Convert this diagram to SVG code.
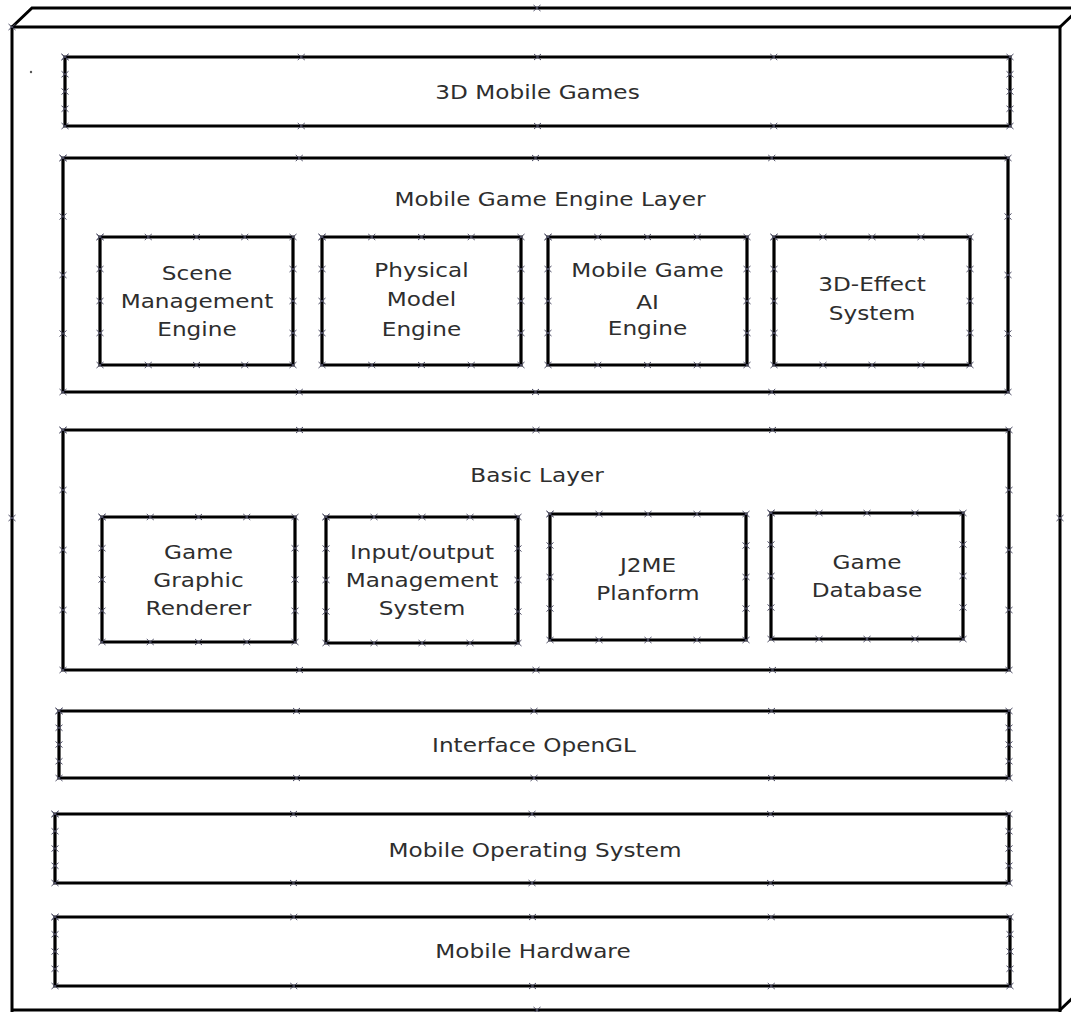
<svg xmlns="http://www.w3.org/2000/svg" width="1071" height="1012" viewBox="0 0 1071 1012">
  <defs>
    <marker id="tick" viewBox="-5 -5 10 10" markerWidth="10" markerHeight="10" markerUnits="userSpaceOnUse" refX="0" refY="0" orient="0" overflow="visible">
      <path d="M-3.5,-3 L3.5,3 M-3.5,3 L3.5,-3" stroke="#4b4b63" stroke-width="1" fill="none"/>
    </marker>
  </defs>
  <style>
    .box { fill: none; stroke: #000; stroke-width: 3.2; stroke-linejoin: miter; marker-start: url(#tick); marker-mid: url(#tick); marker-end: url(#tick); }
    .frame { fill: none; stroke: #000; stroke-width: 3; }
    .lbl { font-family: "DejaVu Sans", "Liberation Sans", sans-serif; font-size: 19px; fill: #2e2e2e; text-anchor: middle; }
  </style>
  <rect width="1071" height="1012" fill="#fff"/>

  <!-- outer 3D frame -->
  <g id="frame">
    <path class="frame" d="M12 1012V27H1060V1012"/>
    <path class="frame" d="M12 1010H1060"/>
    <path class="frame" d="M12 27L32 8H1090"/>
    <path class="frame" d="M1060 27L1080 8"/>
    <path class="frame" d="M1060 1010L1080 991"/>
    <path d="M12 27M537 8M12 518M1060 518M537 1010" fill="none" stroke="none" style="marker-start:url(#tick);marker-mid:url(#tick);marker-end:url(#tick)"/>
    <circle cx="31" cy="72" r="1.2" fill="#555"/>
  </g>

  <g id="mobile-games">
    <path class="box" d="M65 57H301.25H537.5H773.75H1010V74.25V91.5V108.75V126H773.75H537.5H301.25H65V108.75V91.5V74.25Z"/>
    <text class="lbl" transform="translate(537.5 99) scale(1.22 1)">3D Mobile Games</text>
  </g>

  <g id="engine-layer">
    <path class="box" d="M63 158H299.25H535.5H771.75H1008V216.5V275V333.5V392H771.75H535.5H299.25H63V333.5V275V216.5Z"/>
    <text class="lbl" transform="translate(550 206) scale(1.22 1)">Mobile Game Engine Layer</text>
  </g>

  <g id="scene-management-engine">
    <path class="box" d="M100 237H148.25H196.5H244.75H293V269V301V333V365H244.75H196.5H148.25H100V333V301V269Z"/>
    <text class="lbl" transform="translate(197 280) scale(1.22 1)">Scene</text>
    <text class="lbl" transform="translate(197 308) scale(1.22 1)">Management</text>
    <text class="lbl" transform="translate(197 336) scale(1.22 1)">Engine</text>
  </g>

  <g id="physical-model-engine">
    <path class="box" d="M322 237H371.75H421.5H471.25H521V269V301V333V365H471.25H421.5H371.75H322V333V301V269Z"/>
    <text class="lbl" transform="translate(421.5 277) scale(1.22 1)">Physical</text>
    <text class="lbl" transform="translate(421.5 306) scale(1.22 1)">Model</text>
    <text class="lbl" transform="translate(421.5 336) scale(1.22 1)">Engine</text>
  </g>

  <g id="ai-engine">
    <path class="box" d="M548 237H597.75H647.5H697.25H747V269V301V333V365H697.25H647.5H597.75H548V333V301V269Z"/>
    <text class="lbl" transform="translate(647.5 277) scale(1.22 1)">Mobile Game</text>
    <text class="lbl" transform="translate(647.5 309) scale(1.22 1)">AI</text>
    <text class="lbl" transform="translate(647.5 335) scale(1.22 1)">Engine</text>
  </g>

  <g id="effect-system">
    <path class="box" d="M774 237H823H872H921H970V269V301V333V365H921H872H823H774V333V301V269Z"/>
    <text class="lbl" transform="translate(872 291) scale(1.22 1)">3D-Effect</text>
    <text class="lbl" transform="translate(872 320) scale(1.22 1)">System</text>
  </g>

  <g id="basic-layer">
    <path class="box" d="M63 430H299.5H536H772.5H1009V490V550V610V670H772.5H536H299.5H63V610V550V490Z"/>
    <text class="lbl" transform="translate(537 482) scale(1.22 1)">Basic Layer</text>
  </g>

  <g id="graphic-renderer">
    <path class="box" d="M102 517H150.25H198.5H246.75H295V548.25V579.5V610.75V642H246.75H198.5H150.25H102V610.75V579.5V548.25Z"/>
    <text class="lbl" transform="translate(198.5 559) scale(1.22 1)">Game</text>
    <text class="lbl" transform="translate(198.5 587) scale(1.22 1)">Graphic</text>
    <text class="lbl" transform="translate(198.5 615) scale(1.22 1)">Renderer</text>
  </g>

  <g id="io-management">
    <path class="box" d="M326 517H374H422H470H518V548.5V580V611.5V643H470H422H374H326V611.5V580V548.5Z"/>
    <text class="lbl" transform="translate(422 559) scale(1.22 1)">Input/output</text>
    <text class="lbl" transform="translate(422 587) scale(1.22 1)">Management</text>
    <text class="lbl" transform="translate(422 615) scale(1.22 1)">System</text>
  </g>

  <g id="j2me-platform">
    <path class="box" d="M550 514H599H648H697H746V545.5V577V608.5V640H697H648H599H550V608.5V577V545.5Z"/>
    <text class="lbl" transform="translate(648 572) scale(1.22 1)">J2ME</text>
    <text class="lbl" transform="translate(648 600) scale(1.22 1)">Planform</text>
  </g>

  <g id="game-database">
    <path class="box" d="M771 513H819H867H915H963V544.5V576V607.5V639H915H867H819H771V607.5V576V544.5Z"/>
    <text class="lbl" transform="translate(867 569) scale(1.22 1)">Game</text>
    <text class="lbl" transform="translate(867 597) scale(1.22 1)">Database</text>
  </g>

  <g id="opengl">
    <path class="box" d="M59 711H296.5H534H771.5H1009V727.75V744.5V761.25V778H771.5H534H296.5H59V761.25V744.5V727.75Z"/>
    <text class="lbl" transform="translate(534 752) scale(1.22 1)">Interface OpenGL</text>
  </g>

  <g id="mobile-os">
    <path class="box" d="M55 814H293.5H532H770.5H1009V831.25V848.5V865.75V883H770.5H532H293.5H55V865.75V848.5V831.25Z"/>
    <text class="lbl" transform="translate(535 857) scale(1.22 1)">Mobile Operating System</text>
  </g>

  <g id="mobile-hardware">
    <path class="box" d="M55 917H293.75H532.5H771.25H1010V934.25V951.5V968.75V986H771.25H532.5H293.75H55V968.75V951.5V934.25Z"/>
    <text class="lbl" transform="translate(533 958) scale(1.22 1)">Mobile Hardware</text>
  </g>

  <g id="connectors"/>
</svg>
